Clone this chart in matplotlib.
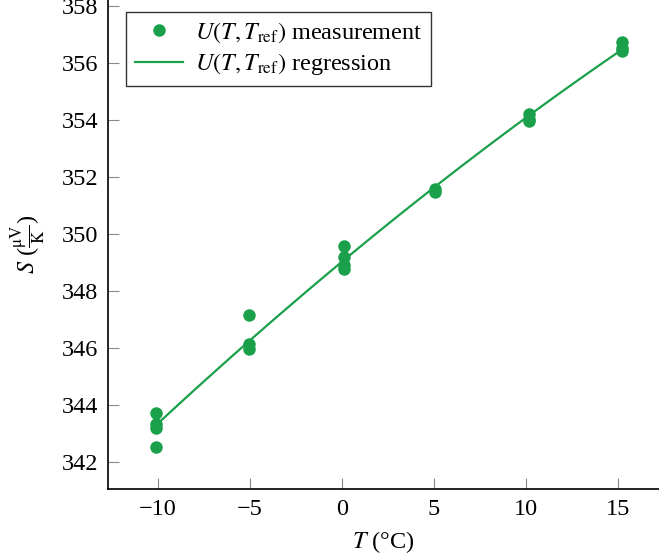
import numpy as np
import matplotlib
matplotlib.use("Agg")
import matplotlib.pyplot as plt

plt.rcParams['font.family'] = ['Liberation Serif', 'DejaVu Serif']
plt.rcParams['mathtext.fontset'] = 'stix'

# measured Seebeck coefficient, several runs per temperature
temp = [-10.1, -10.1, -10.1, -10.1,
        -5.04, -5.04, -5.04,
        0.12, 0.12, 0.12, 0.12,
        5.05, 5.05,
        10.15, 10.15, 10.15,
        15.2, 15.2, 15.2]
seebeck = [343.72, 343.33, 343.20, 342.53,
           347.16, 346.12, 345.97,
           349.58, 349.20, 348.90, 348.75,
           351.58, 351.46,
           354.20, 354.02, 353.94,
           356.72, 356.52, 356.40]

green = '#1aa04a'
fs = 17.5

fig = plt.figure(figsize=(6.59, 5.60), dpi=100)
ax = fig.add_axes([108 / 659, 71 / 560, 551 / 659, 489 / 560])

# quadratic regression of the measurements
coef = np.polyfit(temp, seebeck, 2)
tfit = np.linspace(min(temp), max(temp), 100)
pts, = ax.plot(temp, seebeck, 'o', color=green, ms=9, mec='none', zorder=3,
               label=r'$U(T, T_\mathrm{ref})$ measurement')
reg, = ax.plot(tfit, np.polyval(coef, tfit), color=green, lw=1.6, zorder=2,
               label=r'$U(T, T_\mathrm{ref})$ regression')

ax.set_xlim(-12.69, 17.2)
ax.set_ylim(341.05, 358.2)
ax.set_xticks([-10, -5, 0, 5, 10, 15])
ax.set_xticklabels(['\u221210', '\u22125', '0', '5', '10', '15'])
ax.set_yticks(np.arange(342, 359, 2))

for side in ['top', 'right']:
    ax.spines[side].set_visible(False)
for side in ['left', 'bottom']:
    ax.spines[side].set_linewidth(1.2)
ax.tick_params(direction='in', length=8, width=0.8, color='#888888',
               labelsize=fs, pad=7)

ax.set_xlabel(r'$T$ (°C)', fontsize=fs, labelpad=7)
ax.set_ylabel(r'$S$ ($\frac{\mathrm{\mu V}}{\mathrm{K}}$)', fontsize=fs, labelpad=10)

leg = ax.legend(handles=[pts, reg], loc='upper left',
                bbox_to_anchor=(0.033, 0.975), fontsize=fs,
                frameon=True, fancybox=False, edgecolor='black',
                borderpad=0.35, handlelength=2.0, labelspacing=0.25,
                handletextpad=0.5, borderaxespad=0)
leg.get_frame().set_linewidth(1.0)

fig.savefig('out.png', dpi=100)
